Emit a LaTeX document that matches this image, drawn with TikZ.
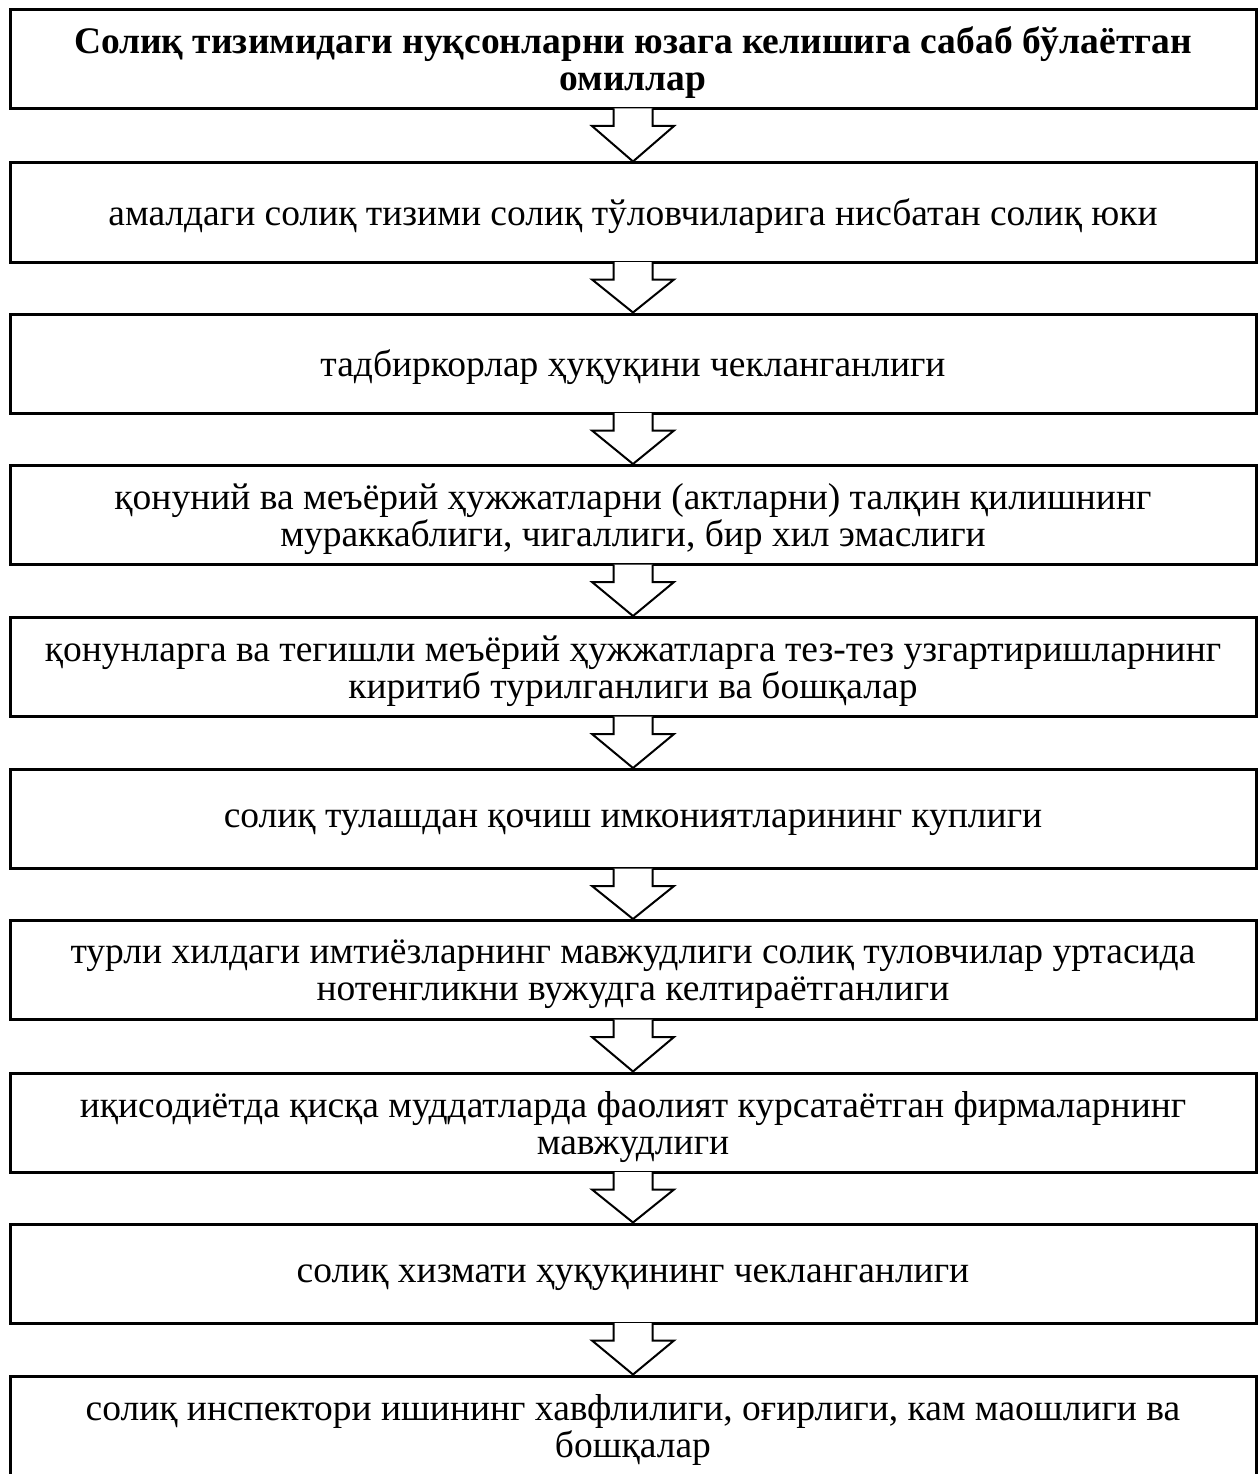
\documentclass[tikz,border=0pt]{standalone}
\usepackage{fontspec}
\setmainfont{Liberation Serif}
\begin{document}
\begin{tikzpicture}[x=1pt,y=-1pt,
  box/.style={draw,line width=3pt,minimum width=1246pt,minimum height=99pt,inner sep=0pt,align=center,
    text depth=0pt,font=\fontsize{37.5}{37}\selectfont},
  arr/.style={line width=2pt,line join=miter}]
\useasboundingbox (0,0) rectangle (1258,1474);
\node[box,font=\fontsize{37.5}{37}\selectfont\bfseries] (b1) at (633,59) {Солиқ тизимидаги нуқсонларни юзага келишига сабаб бўлаётган\\омиллар};
\node[box] (b2) at (633,212.5) {амалдаги солиқ тизими солиқ тўловчиларига нисбатан солиқ юки};
\node[box] (b3) at (633,363.5) {тадбиркорлар ҳуқуқини чекланганлиги};
\node[box] (b4) at (633,515) {қонуний ва меъёрий ҳужжатларни (актларни) талқин қилишнинг\\мураккаблиги, чигаллиги, бир хил эмаслиги};
\node[box] (b5) at (633,667) {қонунларга ва тегишли меъёрий ҳужжатларга тез-тез узгартиришларнинг\\киритиб турилганлиги ва бошқалар};
\node[box] (b6) at (633,819) {солиқ тулашдан қочиш имкониятларининг куплиги};
\node[box] (b7) at (633,970) {турли хилдаги имтиёзларнинг мавжудлиги солиқ туловчилар уртасида\\нотенгликни вужудга келтираётганлиги};
\node[box] (b8) at (633,1122.5) {иқисодиётда қисқа муддатларда фаолият курсатаётган фирмаларнинг\\мавжудлиги};
\node[box] (b9) at (633,1273.5) {солиқ хизмати ҳуқуқининг чекланганлиги};
\node[box] (b10) at (633,1425.5) {солиқ инспектори ишининг хавфлилиги, оғирлиги, кам маошлиги ва\\бошқалар};
\foreach \a/\b in {b1/b2,b2/b3,b3/b4,b4/b5,b5/b6,b6/b7,b7/b8,b8/b9,b9/b10}{
  \fill[white] ([xshift=-19.5pt,yshift=1.5pt]\a.south) -- ([xshift=-19.5pt,yshift=-16pt]\a.south) -- ([xshift=-41pt,yshift=-16pt]\a.south)
     -- (\b.north) -- ([xshift=41pt,yshift=-16pt]\a.south) -- ([xshift=19.5pt,yshift=-16pt]\a.south) -- ([xshift=19.5pt,yshift=1.5pt]\a.south) -- cycle;
  \draw[arr] ([xshift=-19.5pt,yshift=1.5pt]\a.south) -- ([xshift=-19.5pt,yshift=-16pt]\a.south) -- ([xshift=-41pt,yshift=-16pt]\a.south)
     -- (\b.north) -- ([xshift=41pt,yshift=-16pt]\a.south) -- ([xshift=19.5pt,yshift=-16pt]\a.south) -- ([xshift=19.5pt,yshift=1.5pt]\a.south);
}
\end{tikzpicture}
\end{document}
